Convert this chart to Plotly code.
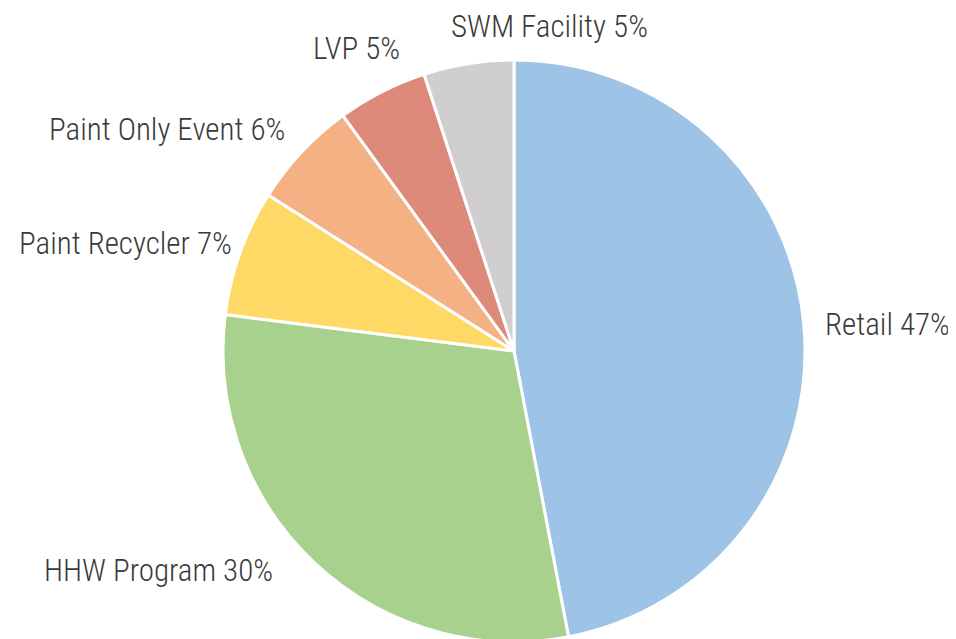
import math
import plotly.graph_objects as go

# ---- data ----
labels = ["Retail", "HHW Program", "Paint Recycler", "Paint Only Event", "LVP", "SWM Facility"]
values = [47, 30, 7, 6, 5, 5]

# ---- style ----
colors = ["#9DC3E6", "#A9D18E", "#FFD966", "#F4B183", "#DE8A7B", "#D0CECE"]
W, H = 956, 639
cx, cy, r = 506, 343, 291          # domain centre / radius in px
label_r = 315                       # radial distance of labels (px)
# per-label anchor and fine pixel nudges (layout only)
anchors = ["left", "right", "right", "right", "right", "left"]
nudges = [(-5, -5), (-23, 8), (16, -1), (3, 4), (31, 20), (-16, 11)]
font = dict(family="Roboto Condensed, Roboto, sans-serif", size=31, color="#3a3a3a", weight=300)

fig = go.Figure(go.Pie(
    labels=labels,
    values=values,
    sort=False,
    direction="clockwise",
    rotation=0,
    marker=dict(colors=colors, line=dict(color="white", width=3)),
    textinfo="none",
    showlegend=False,
    hoverinfo="skip",
    domain=dict(x=[(cx - r) / W, (cx + r) / W], y=[(H - cy - r) / H, (H - cy + r) / H]),
))

# labels placed at each slice's mid-angle, derived from the values
pcx, pcy = cx, cy - 2   # pie centre in figure px
total = sum(values)
cum = 0
for lab, val, anc, (dx, dy) in zip(labels, values, anchors, nudges):
    mid = (cum + val / 2) / total * 2 * math.pi
    cum += val
    px = pcx + label_r * math.sin(mid)
    py = pcy - label_r * math.cos(mid)
    fig.add_annotation(
        x=px / W, y=1 - py / H, xref="paper", yref="paper",
        xanchor=anc, yanchor="middle", xshift=dx, yshift=dy,
        text=f"{lab} {round(val / total * 100)}%", showarrow=False, font=font,
    )

fig.update_layout(
    width=W, height=H,
    margin=dict(l=0, r=0, t=0, b=0),
    paper_bgcolor="white",
)
fig.write_html("out.html")
